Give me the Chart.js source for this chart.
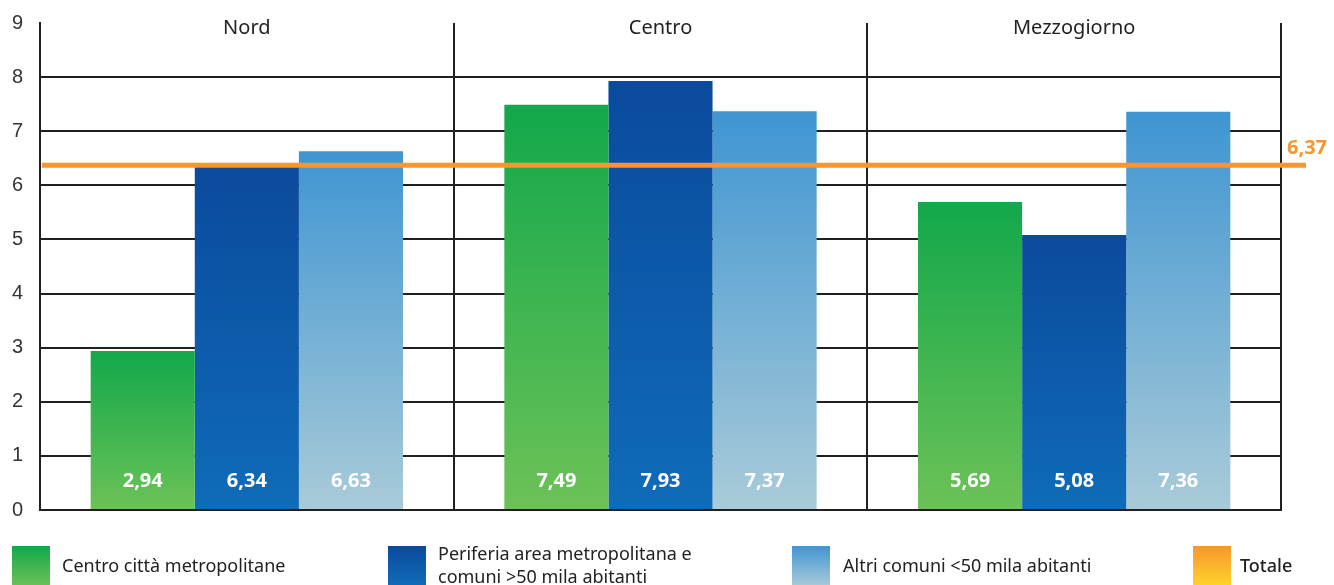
<!DOCTYPE html>
<html lang="it">
<head>
<meta charset="UTF-8">
<title>Indicatore per ripartizione e tipo di comune</title>
<script src="https://cdn.jsdelivr.net/npm/chart.js@4.4.0/dist/chart.umd.min.js"></script>
<style>
  body { margin: 0; background: #fff; font-family: "Noto Sans", sans-serif; }
  #wrap { position: relative; width: 1334px; height: 585px; overflow: hidden; }
  #wrap canvas { position: absolute; left: 0; top: 0; }
  .box { position: absolute; top: 546px; width: 38px; height: 40px; }
  .lab { position: absolute; font-size: 18px; line-height: 23px; color: #222; white-space: pre; }
</style>
</head>
<body>
<div id="wrap">
  <canvas id="grafico" width="1334" height="585"></canvas>
</div>
<script>
const categorie = ['Nord', 'Centro', 'Mezzogiorno'];
const serie = ['Centro città metropolitane', 'Periferia area metropolitana e\ncomuni >50 mila abitanti', 'Altri comuni <50 mila abitanti'];
const centroCitta = [2.94, 7.49, 5.69];
const periferia = [6.34, 7.93, 5.08];
const altriComuni = [6.63, 7.37, 7.36];
const totale = 6.37;
const etichettaTotale = 'Totale';
const yMin = 0, yMax = 9;

// colori (alto, basso)
const colori = [['#12a84b', '#6cc257'], ['#0b4a9d', '#0f6cb8'], ['#3f95d2', '#a9cbd8']];
const coloreTotale = ['#f7952f', '#ffd42a'];

const fmt = v => v.toFixed(2).replace('.', ',');

function sfumatura(top, bottom) {
  return function (c) {
    const chart = c.chart;
    if (!chart.chartArea || c.type !== 'data') return top;
    const y = chart.scales.y;
    const g = chart.ctx.createLinearGradient(0, y.getPixelForValue(c.raw), 0, y.getPixelForValue(0));
    g.addColorStop(0, top);
    g.addColorStop(1, bottom);
    return g;
  };
}

const extra = {
  id: 'extra',
  afterDatasetsDraw(chart) {
    const { ctx, chartArea, scales: { x, y } } = chart;
    ctx.save();
    ctx.textAlign = 'center';
    ctx.textBaseline = 'middle';
    // valori dentro le barre
    ctx.font = 'bold 20px "Noto Sans"';
    ctx.fillStyle = '#fff';
    chart.data.datasets.forEach((ds, i) => {
      chart.getDatasetMeta(i).data.forEach((bar, j) => {
        ctx.fillText(fmt(ds.data[j]), bar.x, y.getPixelForValue(0) - 29);
      });
    });
    // nomi ripartizioni in alto
    ctx.font = '20px "Noto Sans"';
    ctx.fillStyle = '#222';
    categorie.forEach((c, i) => ctx.fillText(c, x.getPixelForValue(i), chartArea.top + 5));
    // linea del totale
    const ty = y.getPixelForValue(totale);
    ctx.strokeStyle = coloreTotale[0];
    ctx.lineWidth = 5;
    ctx.beginPath();
    ctx.moveTo(chartArea.left + 2, ty);
    ctx.lineTo(chartArea.right + 25, ty);
    ctx.stroke();
    ctx.font = 'bold 20px "Noto Sans"';
    ctx.fillStyle = coloreTotale[0];
    ctx.textAlign = 'left';
    ctx.fillText(fmt(totale), chartArea.right + 6, ty - 17);
    ctx.restore();
  }
};

const ctx = document.getElementById('grafico').getContext('2d');
new Chart(ctx, {
  type: 'bar',
  data: {
    labels: categorie,
    datasets: [centroCitta, periferia, altriComuni].map((d, i) => ({
      label: serie[i],
      data: d,
      backgroundColor: sfumatura(colori[i][0], colori[i][1]),
      borderWidth: 0,
      categoryPercentage: 0.755,
      barPercentage: 1.0
    }))
  },
  options: {
    responsive: false,
    animation: false,
    layout: { padding: { top: 23, right: 53, bottom: 75, left: 0 } },
    plugins: { legend: { display: false }, tooltip: { enabled: false } },
    scales: {
      x: {
        grid: { offset: true, color: '#231f20', lineWidth: 2, drawTicks: false },
        border: { display: true, color: '#231f20', width: 2 },
        ticks: { display: false }
      },
      y: {
        min: yMin,
        max: yMax,
        afterFit: s => { s.width = 40; s.paddingTop = 0; s.paddingBottom = 0; },
        grid: {
          color: c => (c.tick && c.tick.value === yMax) ? 'rgba(0,0,0,0)' : '#231f20',
          lineWidth: 2,
          drawTicks: false
        },
        border: { display: true, color: '#231f20', width: 2 },
        ticks: { stepSize: 1, padding: 17, color: '#333', font: { size: 20 } }
      }
    }
  },
  plugins: [extra]
});

// legenda
const wrap = document.getElementById('wrap');
const posizioni = [[12, 62], [388, 438], [792, 843], [1193, 1240]];
const voci = serie.concat([etichettaTotale]);
const coloriLeg = colori.concat([coloreTotale]);
voci.forEach((t, i) => {
  const b = document.createElement('div');
  b.className = 'box';
  b.style.left = posizioni[i][0] + 'px';
  b.style.background = 'linear-gradient(' + coloriLeg[i][0] + ',' + coloriLeg[i][1] + ')';
  wrap.appendChild(b);
  const l = document.createElement('div');
  l.className = 'lab';
  l.style.left = posizioni[i][1] + 'px';
  const righe = t.split('\n').length;
  l.style.top = (righe > 1 ? 542 : 554) + 'px';
  l.textContent = t;
  if (i === 3) l.style.fontWeight = '500';
  wrap.appendChild(l);
});
</script>
</body>
</html>
